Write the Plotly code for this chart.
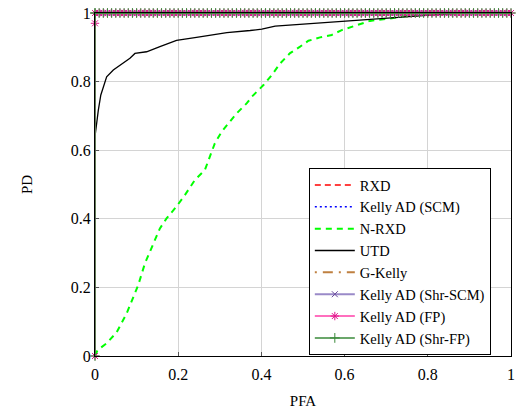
import plotly.graph_objects as go

# ---------------- data ----------------
# Common PFA sampling grid for the ideal detectors (PD = 1 for all PFA > 0)
pfa_grid = [i / 100 for i in range(101)]

# Ideal detectors: jump to PD = 1 at PFA = 0
ideal_pfa = [0.0, 0.0] + pfa_grid
ideal_pd = [0.0, 1.0] + [1.0] * len(pfa_grid)

# Kelly AD (FP): small intermediate step at PFA = 0
fp_pfa = [0.0, 0.0] + pfa_grid
fp_pd = [0.0, 0.97] + [1.0] * len(pfa_grid)

# N-RXD
nrxd_pfa = [0.0, 0.006, 0.028, 0.052, 0.076, 0.096, 0.104, 0.120, 0.140, 0.156, 0.172,
            0.196, 0.216, 0.240, 0.264, 0.276, 0.288, 0.305, 0.325, 0.341, 0.365,
            0.377, 0.405, 0.425, 0.445, 0.469, 0.493, 0.513, 0.541, 0.569, 0.593,
            0.629, 0.661, 0.709, 0.749, 0.800, 0.850, 1.0]
nrxd_pd = [0.0, 0.017, 0.037, 0.069, 0.124, 0.183, 0.207, 0.270, 0.328, 0.372, 0.401,
           0.436, 0.469, 0.513, 0.542, 0.581, 0.620, 0.655, 0.684, 0.708, 0.737,
           0.756, 0.790, 0.819, 0.853, 0.883, 0.902, 0.919, 0.929, 0.936, 0.950,
           0.965, 0.977, 0.984, 0.991, 0.996, 1.0, 1.0]

# UTD
utd_pfa = [0.0, 0.002, 0.008, 0.014, 0.028, 0.044, 0.068, 0.084, 0.096, 0.124, 0.156,
           0.196, 0.244, 0.317, 0.373, 0.401, 0.433, 0.533, 0.597, 0.653, 0.693,
           0.797, 0.880, 1.0]
utd_pd = [0.64, 0.66, 0.717, 0.761, 0.814, 0.834, 0.853, 0.868, 0.882, 0.887, 0.902,
          0.920, 0.929, 0.943, 0.949, 0.953, 0.962, 0.970, 0.975, 0.980, 0.984,
          0.993, 1.0, 1.0]

x_ticks = [0, 0.2, 0.4, 0.6, 0.8, 1]
x_tick_text = ["0", "0.2", "0.4", "0.6", "0.8", "1"]
y_ticks = [0, 0.2, 0.4, 0.6, 0.8, 1]
y_tick_text = ["0", "0.2", "0.4", "0.6", "0.8", "1"]

FONT = "Liberation Serif, Times New Roman, DejaVu Serif, serif"

fig = go.Figure()

fig.add_trace(go.Scatter(x=ideal_pfa, y=ideal_pd, mode="lines", name="RXD",
                         line=dict(color="#ff0000", width=1.6, dash="6px,4px"),
                         cliponaxis=False))
fig.add_trace(go.Scatter(x=ideal_pfa, y=ideal_pd, mode="lines", name="Kelly AD (SCM)",
                         line=dict(color="#0000ff", width=1.6, dash="2px,3px"),
                         cliponaxis=False))
fig.add_trace(go.Scatter(x=nrxd_pfa, y=nrxd_pd, mode="lines", name="N-RXD",
                         line=dict(color="#00ff00", width=2, dash="6px,5px"),
                         cliponaxis=False))
fig.add_trace(go.Scatter(x=utd_pfa, y=utd_pd, mode="lines", name="UTD",
                         line=dict(color="#000000", width=1.3),
                         cliponaxis=False))
fig.add_trace(go.Scatter(x=ideal_pfa, y=ideal_pd, mode="lines", name="G-Kelly",
                         line=dict(color="#bf8040", width=2, dash="2px,6px,10px,6px"),
                         cliponaxis=False))
fig.add_trace(go.Scatter(x=ideal_pfa, y=ideal_pd, mode="lines+markers", name="Kelly AD (Shr-SCM)",
                         line=dict(color="#9a8ac8", width=2),
                         marker=dict(symbol="x-thin", size=6, color="#6a4c9c",
                                     line=dict(color="#6a4c9c", width=1)),
                         cliponaxis=False))
fig.add_trace(go.Scatter(x=fp_pfa, y=fp_pd, mode="lines+markers", name="Kelly AD (FP)",
                         line=dict(color="#ff3fa8", width=1.5),
                         marker=dict(symbol="asterisk", size=7, color="#e0168c",
                                     line=dict(color="#e0168c", width=1)),
                         cliponaxis=False))
fig.add_trace(go.Scatter(x=ideal_pfa, y=ideal_pd, mode="lines+markers", name="Kelly AD (Shr-FP)",
                         line=dict(color="#3a8a3a", width=1.5),
                         marker=dict(symbol="cross-thin", size=7, color="#3a8a3a",
                                     line=dict(color="#3a8a3a", width=1)),
                         cliponaxis=False))

axis_common = dict(
    range=[0, 1],
    showgrid=True, gridcolor="#d4d4d4", gridwidth=1,
    showline=True, linecolor="#000000", linewidth=1, mirror=True,
    ticks="inside", ticklen=4, tickcolor="#555555",
    zeroline=False,
    tickfont=dict(family=FONT, size=16, color="#000000"),
)

fig.update_layout(
    width=519, height=413,
    margin=dict(l=95, r=8, t=13, b=57, autoexpand=False),
    paper_bgcolor="white", plot_bgcolor="white",
    font=dict(family=FONT, size=15, color="#000000"),
    xaxis=dict(axis_common, tickvals=x_ticks, ticktext=x_tick_text, ticklabelstandoff=4,
               title=dict(text="PFA", font=dict(family=FONT, size=15), standoff=13)),
    yaxis=dict(axis_common, tickvals=y_ticks, ticktext=y_tick_text,
               title=dict(text="PD", font=dict(family=FONT, size=15), standoff=34)),
    legend=dict(x=0.514, y=0.548, xanchor="left", yanchor="top",
                bgcolor="white", bordercolor="#000000", borderwidth=1,
                font=dict(family=FONT, size=14.5, color="#000000"),
                itemwidth=40, tracegroupgap=0),
    showlegend=True,
)

# Remove the default 8px page margin so the figure fills the window exactly.
fig.write_html("out.html",
               config={"displayModeBar": False},
               post_script="document.body.style.margin='0';document.body.style.padding='0';")
